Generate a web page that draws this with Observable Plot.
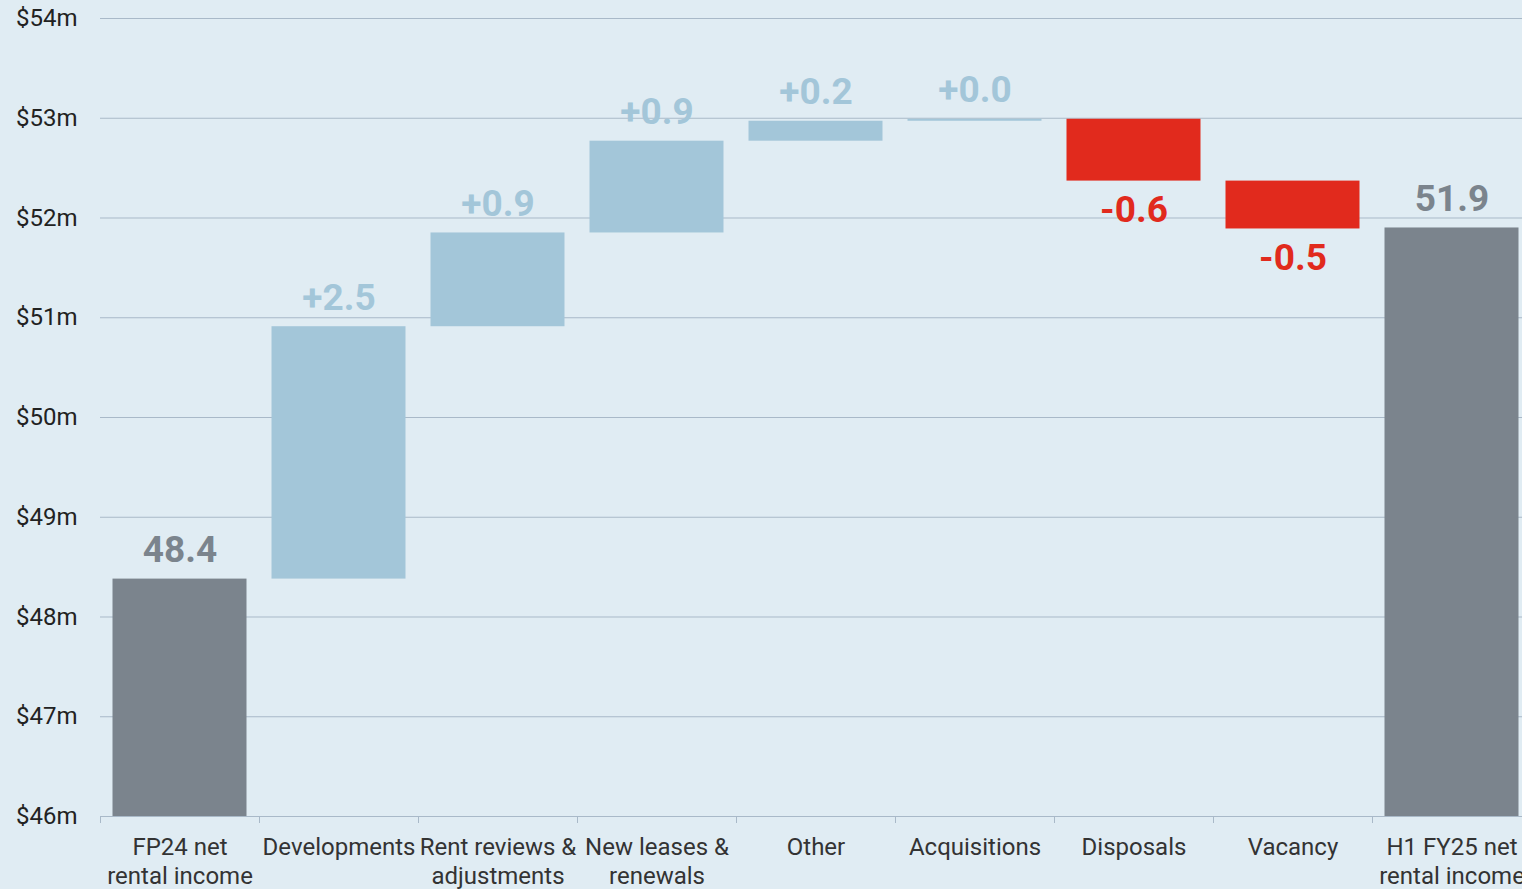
<!DOCTYPE html>
<html>
<head>
<meta charset="utf-8">
<script src="https://cdn.jsdelivr.net/npm/d3@7"></script>
<script src="https://cdn.jsdelivr.net/npm/@observablehq/plot@0.6"></script>
<style>
  html, body { margin: 0; padding: 0; background: #e0ecf3; overflow: hidden; }
  #chart svg { display: block; }
</style>
</head>
<body>
<div id="chart"></div>
<script>
// ---- data ----
const categories = [
  "FP24 net\nrental income", "Developments", "Rent reviews &\nadjustments",
  "New leases &\nrenewals", "Other", "Acquisitions", "Disposals", "Vacancy",
  "H1 FY25 net\nrental income"
];
const kinds = ["total", "delta", "delta", "delta", "delta", "delta", "delta", "delta", "total"];
const values = [48.38, 2.53, 0.94, 0.92, 0.20, 0.02, -0.62, -0.48, 51.9];
const yTicks = [46, 47, 48, 49, 50, 51, 52, 53, 54];

const colors = { pos: "#a3c6d9", neg: "#e12a1d", total: "#7b848d" };

// ---- build waterfall table ----
const base = yTicks[0];
let run = 0;
const rows = categories.map((cat, i) => {
  const v = values[i];
  let lo, hi, type;
  if (kinds[i] === "total") {
    run = v; lo = base; hi = v; type = "total";
  } else {
    const start = run; run = run + v;
    lo = Math.min(start, run); hi = Math.max(start, run);
    type = v >= 0 ? "pos" : "neg";
  }
  const label = type === "total" ? v.toFixed(1) : (v < 0 ? "-" : "+") + Math.abs(v).toFixed(1);
  return { cat, lo, hi, type, label, color: colors[type] };
});

const W = 1522, H = 889;
const xRange = [100, 1531];
const bw = (xRange[1] - xRange[0]) / categories.length;

const chart = Plot.plot({
  width: W,
  height: H,
  marginLeft: 100,
  marginRight: 0,
  marginTop: 18,
  marginBottom: 73,
  style: { fontFamily: "Roboto, sans-serif", fontSize: "24px", background: "transparent", color: "#333" },
  x: { domain: categories, range: xRange, padding: 0, axis: null },
  y: { domain: [yTicks[0], yTicks[yTicks.length - 1]], axis: null },
  color: { type: "identity" },
  marks: [
    Plot.ruleY(yTicks, { stroke: "#a9b9c8", strokeWidth: 1 }),
    Plot.axisY({ ticks: yTicks, tickSize: 0, tickPadding: 23, tickFormat: d => `$${d}m`, fontSize: 24, fill: "#222", label: null }),
    Plot.axisX({ tickSize: 7, tickFormat: () => "", stroke: "#a9b9c8", dx: -bw / 2, label: null }),
    Plot.axisX({ tickSize: 0, tickPadding: 18, lineHeight: 1.2, fontSize: 24, fill: "#333", label: null }),
    Plot.barY(rows, { x: "cat", y1: "lo", y2: "hi", fill: "color", insetLeft: 12.5, insetRight: 12.5 }),
    Plot.text(rows.filter(d => d.type !== "neg"), {
      x: "cat", y: "hi", text: "label", fill: "color", fontWeight: 700, fontSize: 37,
      lineAnchor: "bottom", dy: -17
    }),
    Plot.text(rows.filter(d => d.type === "neg"), {
      x: "cat", y: "lo", text: "label", fill: "color", fontWeight: 700, fontSize: 37,
      lineAnchor: "top", dy: 15
    })
  ]
});
document.getElementById("chart").appendChild(chart);
</script>
</body>
</html>
